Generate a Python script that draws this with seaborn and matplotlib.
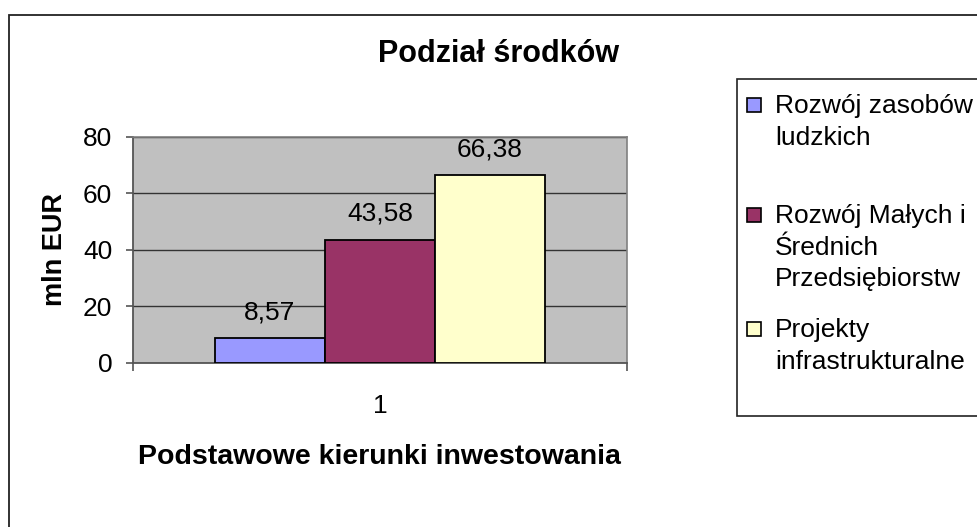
import pandas as pd
import matplotlib.pyplot as plt
import matplotlib.patches as mpatches
import seaborn as sns

# Data
kategorie = ["1"]
serie = ["Rozwój zasobów ludzkich",
         "Rozwój Małych i Średnich Przedsiębiorstw",
         "Projekty infrastrukturalne"]
etykiety_legendy = ["Rozwój zasobów\nludzkich",
                    "Rozwój Małych i\nŚrednich\nPrzedsiębiorstw",
                    "Projekty\ninfrastrukturalne"]
wartosci = [8.57, 43.58, 66.38]
kolory = ["#9999FF", "#993366", "#FFFFCC"]
y_ticks = [0, 20, 40, 60, 80]

df = pd.DataFrame({
    "kierunek": kategorie * len(serie),
    "seria": serie,
    "wartosc": wartosci,
})

sns.set_theme(style="white")
plt.rcParams["font.family"] = ["Liberation Sans", "DejaVu Sans"]
plt.rcParams.update({"text.color": "black", "axes.labelcolor": "black",
                     "xtick.color": "black", "ytick.color": "black"})

W, H = 978, 527
fig = plt.figure(figsize=(W / 100, H / 100), dpi=100)

def fx(px):
    return px / W

def fy(py):
    return 1 - py / H

# outer chart border (runs off the right/bottom edge)
fig.patches.append(mpatches.Rectangle((fx(9), fy(540)), fx(990) - fx(9), fy(15) - fy(540),
                                      transform=fig.transFigure, fill=False,
                                      edgecolor="#222222", linewidth=1.3))

ax = fig.add_axes([fx(132.7), fy(362.7), fx(627) - fx(132.7), fy(136.7) - fy(362.7)])
ax.set_facecolor("#C0C0C0")

sns.barplot(data=df, x="kierunek", y="wartosc", hue="seria", hue_order=serie,
            palette=kolory, saturation=1, width=2 / 3, gap=0, errorbar=None,
            edgecolor="black", linewidth=1.3, legend=False, ax=ax, zorder=3)

for cont, v in zip(ax.containers, wartosci):
    ax.bar_label(cont, labels=[f"{v:.2f}".replace(".", ",")], padding=10,
                 fontsize=19, color="black")

ax.set_xlim(-0.5, 0.5)
ax.set_ylim(0, 80)
ax.set_yticks(y_ticks)
ax.yaxis.grid(True, color="#333333", linewidth=1, zorder=0)
ax.set_axisbelow(True)

for s in ["top", "right"]:
    ax.spines[s].set_color("#808080")
    ax.spines[s].set_linewidth(1.2)
for s in ["left", "bottom"]:
    ax.spines[s].set_color("#555555")
    ax.spines[s].set_linewidth(1.3)

ax.tick_params(axis="y", which="major", left=True, length=5.4, width=1.2,
               color="#555555", pad=9.4, labelsize=19, labelcolor="black")
ax.set_xticks([0])
ax.set_xticklabels(kategorie)
ax.set_xticks([-0.5, 0.5], minor=True)
ax.tick_params(axis="x", which="major", bottom=True, length=0, pad=22.6,
               labelsize=19, labelcolor="black")
ax.tick_params(axis="x", which="minor", bottom=True, length=5.8, width=1.2,
               color="#555555")

ax.set_xlabel("Podstawowe kierunki inwestowania", fontsize=20.5, fontweight="bold")
ax.xaxis.set_label_coords(0.5, -0.36)
ax.set_ylabel("mln EUR", fontsize=19.5, fontweight="bold")
ax.yaxis.set_label_coords(-0.1315, 0.5)

fig.text(fx(499), fy(62), "Podział środków", ha="center", va="baseline",
         fontsize=22, fontweight="bold")

# Excel-style legend box
fig.patches.append(mpatches.Rectangle((fx(737.5), fy(416)), fx(1000) - fx(737.5), fy(79) - fy(416),
                                      transform=fig.transFigure, facecolor="white",
                                      edgecolor="#222222", linewidth=1.2))
baselines = [113, 223, 337]
for lab, kol, b in zip(etykiety_legendy, kolory, baselines):
    fig.patches.append(mpatches.Rectangle((fx(747.5), fy(b - 1)), fx(14), fy(0) - fy(14),
                                          transform=fig.transFigure, facecolor=kol,
                                          edgecolor="black", linewidth=1.2))
    fig.text(fx(775), fy(b - 19), lab, ha="left", va="top", fontsize=19,
             linespacing=1.4)

fig.savefig("out.png", dpi=100)
